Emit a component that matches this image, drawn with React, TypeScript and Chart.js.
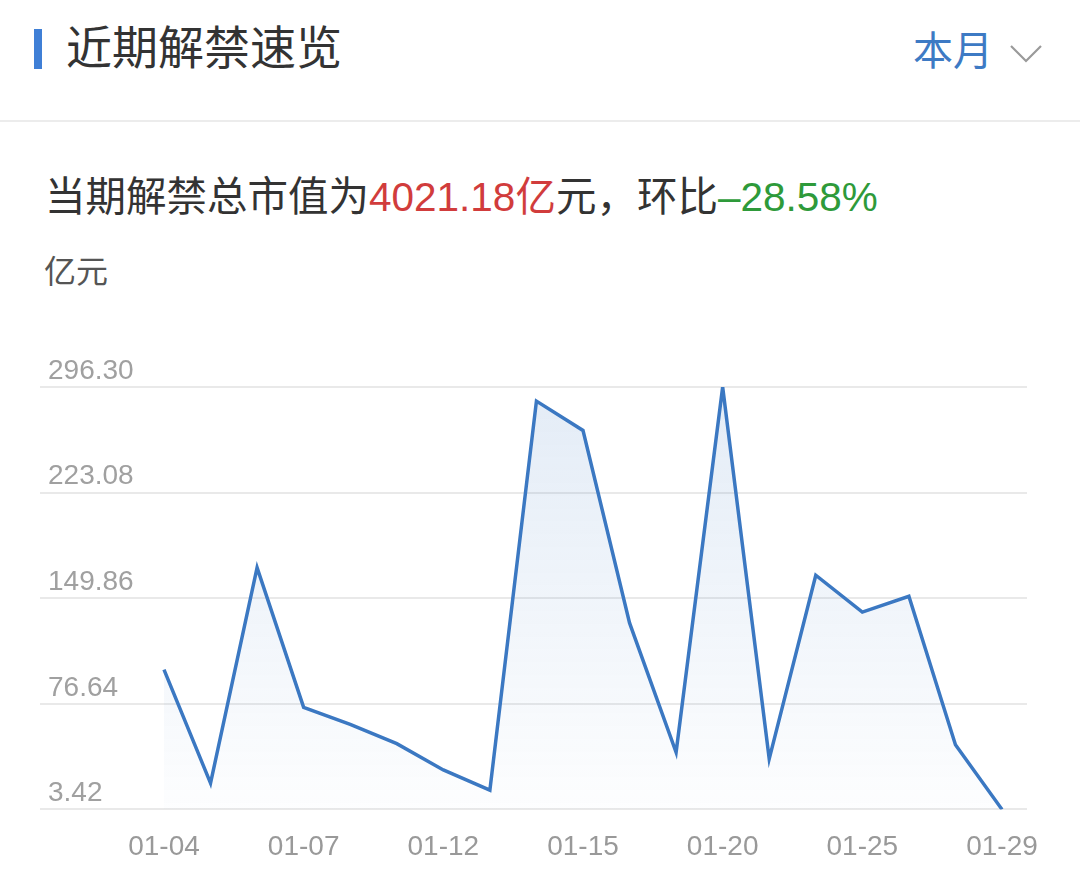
import { useEffect, useRef } from 'react';
import Chart from 'chart.js/auto';

// 解禁日期（有解禁的交易日）
const dates = ['01-04', '01-05', '01-06', '01-07', '01-08', '01-11', '01-12', '01-13', '01-14', '01-15',
  '01-18', '01-19', '01-20', '01-21', '01-22', '01-25', '01-26', '01-28', '01-29'];
// 每日解禁市值（亿元）
const values = [100.3, 21.6, 171.0, 74.2, 62.4, 49.0, 30.8, 16.8, 286.5, 266.2,
  132.7, 43.0, 296.3, 38.5, 165.8, 140.2, 151.2, 48.2, 3.42];
const yTicks = [3.42, 76.64, 149.86, 223.08, 296.30];
const xTickIdx = [0, 3, 6, 9, 12, 15, 18];

const FONT = "'Liberation Sans', Arial, 'Noto Sans CJK SC', sans-serif";

const UnlockChart = () => {
  const chartRef = useRef<HTMLCanvasElement>(null);
  const chartInstance = useRef<Chart>();

  useEffect(() => {
    if (!chartRef.current) return;
    const ctx = chartRef.current.getContext('2d');
    if (!ctx) return;
    if (chartInstance.current) chartInstance.current.destroy();

    chartInstance.current = new Chart(ctx, {
      type: 'line',
      data: {
        datasets: [{
          data: values.map((v, i) => ({ x: i, y: v })),
          borderColor: '#3b78c2',
          borderWidth: 3.5,
          pointRadius: 0,
          tension: 0,
          fill: 'start',
          backgroundColor: (c: any) => {
            const area = c.chart.chartArea;
            if (!area) return 'rgba(59,120,194,0.08)';
            const g = c.chart.ctx.createLinearGradient(0, area.top, 0, area.bottom);
            g.addColorStop(0, 'rgba(59,120,194,0.14)');
            g.addColorStop(1, 'rgba(59,120,194,0.01)');
            return g;
          },
        }],
      },
      options: {
        animation: false,
        responsive: true,
        maintainAspectRatio: false,
        layout: { padding: { top: 67, left: 24, right: 53, bottom: 4 } },
        plugins: { legend: { display: false }, tooltip: { enabled: false } },
        scales: {
          x: {
            type: 'linear',
            min: -2.663,
            max: 18.537,
            grid: { display: false, drawTicks: false },
            border: { display: false },
            afterBuildTicks: (s: any) => { s.ticks = xTickIdx.map(v => ({ value: v })); },
            ticks: {
              autoSkip: false,
              maxRotation: 0,
              padding: 21,
              color: '#999',
              font: { size: 28, family: FONT },
              callback: (v: any) => dates[v],
            },
          },
          y: {
            min: 3.42,
            max: 296.30,
            afterBuildTicks: (s: any) => { s.ticks = yTicks.map(v => ({ value: v })); },
            grid: { color: '#e9e9e9', lineWidth: 2, drawTicks: false },
            border: { display: false },
            ticks: {
              mirror: true,
              padding: 8,
              labelOffset: -16,
              color: '#a0a0a0',
              font: { size: 28, family: FONT },
              callback: (v: any) => Number(v).toFixed(2),
            },
          },
        },
      },
    });

    return () => {
      if (chartInstance.current) {
        chartInstance.current.destroy();
        chartInstance.current = undefined;
      }
    };
  }, []);

  return <canvas ref={chartRef} />;
};

export default function App() {
  return (
    <div style={{ position: 'fixed', left: 0, top: 0, width: 1080, height: 889, background: '#fff', fontFamily: FONT, overflow: 'hidden' }}>
      <div style={{ position: 'absolute', left: 34, top: 29, width: 8, height: 40, background: '#3f7fd6' }} />
      <div style={{ position: 'absolute', left: 66, top: 18, lineHeight: '60px', fontSize: 46, color: '#333' }}>近期解禁速览</div>
      <div style={{ position: 'absolute', left: 913, top: 21, lineHeight: '60px', fontSize: 40, color: '#3d7ac4' }}>本月</div>
      <svg style={{ position: 'absolute', left: 1008, top: 42 }} width="36" height="24" viewBox="0 0 36 24">
        <polyline points="3,4 18,19 33,4" fill="none" stroke="#9a9a9a" strokeWidth="2.2" />
      </svg>
      <div style={{ position: 'absolute', left: 0, top: 120, width: 1080, height: 2, background: '#ececec' }} />
      <div style={{ position: 'absolute', left: 45, top: 167, lineHeight: '60px', fontSize: 40.5, color: '#333', whiteSpace: 'nowrap' }}>
        当期解禁总市值为<span style={{ color: '#d13c3c' }}>4021.18亿</span>元，环比<span style={{ color: '#2e9a3a' }}>–28.58%</span>
      </div>
      <div style={{ position: 'absolute', left: 44, top: 252, lineHeight: '40px', fontSize: 32, color: '#555' }}>亿元</div>
      <div style={{ position: 'absolute', left: 0, top: 320, width: 1080, height: 569 }}>
        <UnlockChart />
      </div>
    </div>
  );
}
